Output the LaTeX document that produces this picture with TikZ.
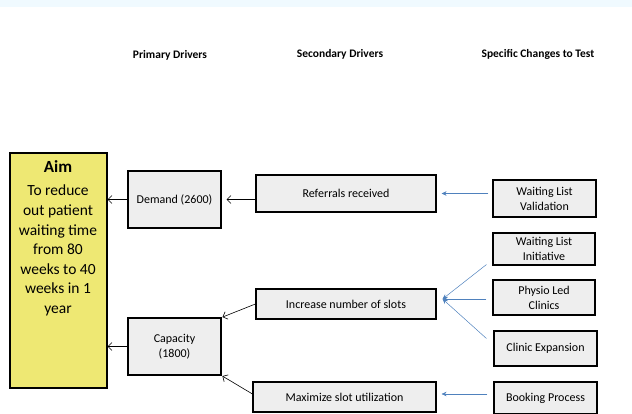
\documentclass[tikz,border=0pt]{standalone}
\usepackage{fontspec}
\setmainfont{Carlito}
\usetikzlibrary{arrows.meta,shadows,calc}
\definecolor{aimyellow}{RGB}{238,232,115}
\definecolor{boxgray}{RGB}{238,238,238}
\definecolor{linkblue}{RGB}{79,129,189}
\definecolor{topband}{RGB}{240,250,255}
\begin{document}
\begin{tikzpicture}[x=1pt,y=-1pt,
  box/.style={draw=black, line width=1.1pt, fill=boxgray,
    drop shadow={shadow xshift=1.3pt, shadow yshift=-1.3pt, opacity=0.3, fill=black},
    inner sep=0pt, align=center, font=\fontsize{12}{15}\selectfont},
  hdr/.style={font=\bfseries\fontsize{11.5}{13}\selectfont},
  blk/.style={-{Straight Barb[length=4pt,width=8pt]}, line width=0.6pt},
  blu/.style={-{Stealth[length=5pt,width=4.5pt]}, draw=linkblue, line width=0.5pt}]

\useasboundingbox (0,0) rectangle (632,414);
\fill[topband] (0,0) rectangle (632,7);

% headers
\node[hdr] (h1) at (170,55) {Primary Drivers};
\node[hdr] (h2) at (340,54) {Secondary Drivers};
\node[hdr] (h3) at (538,54) {Specific Changes to Test};

% aim
\node[box, fill=aimyellow, minimum width=97pt, minimum height=235pt] (aim) at (58.5,270.5) {};
\node[font=\bfseries\fontsize{17}{20}\selectfont] (aimtitle) at (58,167) {Aim};
\node[anchor=north, inner sep=0pt, align=center, font=\fontsize{15.5}{19.6}\selectfont] (aimtxt) at (58,185)
  {To reduce\\out patient\\waiting time\\from 80\\weeks to 40\\weeks in 1\\year};

% primary
\node[box, minimum width=93pt, minimum height=57pt] (demand) at (174.5,199.5) {Demand (2600)};
\node[box, minimum width=93pt, minimum height=57pt] (capacity) at (174.5,346.5) {Capacity\\(1800)};

% secondary
\node[box, minimum width=180pt, minimum height=37pt] (referrals) at (346,193.5) {Referrals received};
\node[box, minimum width=180pt, minimum height=30pt] (increase) at (346,304) {Increase number of slots};
\node[box, minimum width=183pt, minimum height=30pt] (maximize) at (344.5,397) {Maximize slot utilization};

% changes
\node[box, minimum width=103pt, minimum height=37pt] (validation) at (544.5,198.5) {Waiting List\\Validation};
\node[box, minimum width=102pt, minimum height=32pt] (initiative) at (544,249) {Waiting List\\Initiative};
\node[box, minimum width=102pt, minimum height=35pt] (physio) at (544,297.5) {Physio Led\\Clinics};
\node[box, minimum width=103pt, minimum height=35pt] (clinicexp) at (545.5,348.5) {Clinic Expansion};
\node[box, minimum width=103pt, minimum height=32pt] (booking) at (545.5,398) {Booking Process};

% black connectors
\draw[blk] (demand.west) -- (demand.west -| aim.east);
\draw[blk] (capacity.west) -- (capacity.west -| aim.east);
\draw[blk, shorten >=5pt] (referrals.west |- demand.east) -- (demand.east);
\draw[blk, shorten >=1pt] (increase.west) -- (capacity.north east);
\draw[blk, shorten >=1pt] ($(maximize.west)+(0,-3)$) -- (capacity.south east);

% blue connectors
\coordinate (conv) at ($(increase.east)+(6,-5)$);
\coordinate (iniS) at ($(initiative.south west)+(-6,-1)$);
\coordinate (physS) at ($(physio.west)+(-6,1.5)$);
\coordinate (clinS) at ($(clinicexp.west)+(-7,-10)$);
\draw[blu, shorten <=4pt, shorten >=5pt] (validation.west |- referrals.east) -- (referrals.east);
\draw[blu] (iniS) -- (conv);
\draw[blu] (physS) -- (conv);
\draw[blu] (clinS) -- (conv);
\draw[blu, shorten <=6pt, shorten >=5pt] ($(booking.west)+(0,-4)$) -- ($(booking.west -| maximize.east)+(0,-4)$);
\end{tikzpicture}
\end{document}
